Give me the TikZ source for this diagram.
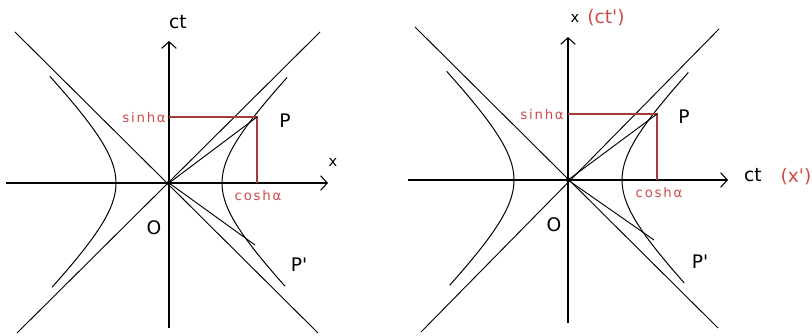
\documentclass[tikz,border=0pt]{standalone}
\usepackage{fontspec}
\setmainfont{DejaVu Sans}
\newfontfamily\redsmall[LetterSpace=13]{DejaVu Sans}
\usetikzlibrary{arrows.meta}
\definecolor{projred}{RGB}{165,60,60}
\definecolor{labelred}{RGB}{205,75,75}

\begin{document}
\begin{tikzpicture}[x=0.75pt,y=0.75pt,font=\fontsize{14}{16}\selectfont]
  \tikzstyle{axis}=[line width=0.8pt,-{Straight Barb[length=5pt,width=11pt]}]
  \tikzstyle{cone}=[line width=0.7pt]
  \tikzstyle{hyp}=[line width=0.75pt,smooth]
  \tikzstyle{proj}=[projred,line width=1pt]
  \tikzstyle{lbl}=[inner sep=0pt]
  \tikzstyle{small}=[inner sep=0pt,font=\fontsize{11}{13}\selectfont]
  \tikzstyle{rlbl}=[inner sep=0pt,text=labelred]
  \tikzstyle{rsmall}=[inner sep=0pt,text=labelred,font=\redsmall\fontsize{10}{12}\selectfont]

  \useasboundingbox (0,0) rectangle (812,335);

  % left: ct up, x right
  \begin{scope}[shift={(169,152)}]
    \coordinate (Oa) at (0,0);
    \coordinate (Pa) at (88,66);
    \coordinate (Qa) at (86,-62);
    \coordinate (Sa) at (0,66);
    \coordinate (Ca) at (88,0);
    \draw[cone] (-154,151) -- (149,-150);
    \draw[cone] (-152,-150) -- (151,151);
    \draw[hyp] plot[domain=-1.42:1.44,samples=40] ({53*cosh(\x)},{53*sinh(\x)});
    \draw[hyp] plot[domain=-1.43:1.45,samples=40] ({-53*cosh(\x)},{53*sinh(\x)});
    \draw[axis] (-163,0) -- (159,0);
    \draw[axis] (0,-145) -- (0,142);
    \draw[proj] (Sa) -- (Pa) -- (Ca);
    \draw[cone] (Oa) -- (Pa);
    \draw[cone] (Oa) -- (Qa);
    \fill (Oa) circle (2.2);
    \node[lbl] (cta) at (9,161) {ct};
    \node[small] (xa) at (164,21) {x};
    \node[lbl] (pa) at (116,62) {P};
    \node[lbl] (oa) at (-15,-45) {O};
    \node[lbl] (qa) at (130,-82) {P\textquotesingle};
    \node[rsmall,anchor=east] (sha) at (-3,65) {sinhα};
    \node[rsmall] (cha) at (89,-13) {coshα};
  \end{scope}

  % right: x up, ct right
  \begin{scope}[shift={(568,155)}]
    \coordinate (Ob) at (0,0);
    \coordinate (Pb) at (89,66);
    \coordinate (Qb) at (86,-60);
    \coordinate (Sb) at (0,66);
    \coordinate (Cb) at (89,0);
    \draw[cone] (-153,153) -- (150,-148);
    \draw[cone] (-147,-152) -- (151,151);
    \draw[hyp] plot[domain=-1.40:1.44,samples=40] ({54*cosh(\x)},{54*sinh(\x)});
    \draw[hyp] plot[domain=-1.42:1.45,samples=40] ({-54*cosh(\x)},{54*sinh(\x)});
    \draw[axis] (-160,0) -- (160,0);
    \draw[axis] (0,-143) -- (0,143);
    \draw[proj] (Sb) -- (Pb) -- (Cb);
    \draw[cone] (Ob) -- (Pb);
    \draw[cone] (Ob) -- (Qb);
    \fill (Ob) circle (2.2);
    \node[small] (xb) at (7,162) {x};
    \node[rlbl] (ctp) at (38,162) {(ct\textquotesingle)};
    \node[lbl] (ctb) at (185,5) {ct};
    \node[rlbl] (xp) at (228,3) {(x\textquotesingle)};
    \node[lbl] (pb) at (116,63) {P};
    \node[lbl] (ob) at (-14,-45) {O};
    \node[lbl] (qb) at (132,-82) {P\textquotesingle};
    \node[rsmall,anchor=east] (shb) at (-4,65) {sinhα};
    \node[rsmall] (chb) at (91,-13) {coshα};
  \end{scope}
\end{tikzpicture}
\end{document}
